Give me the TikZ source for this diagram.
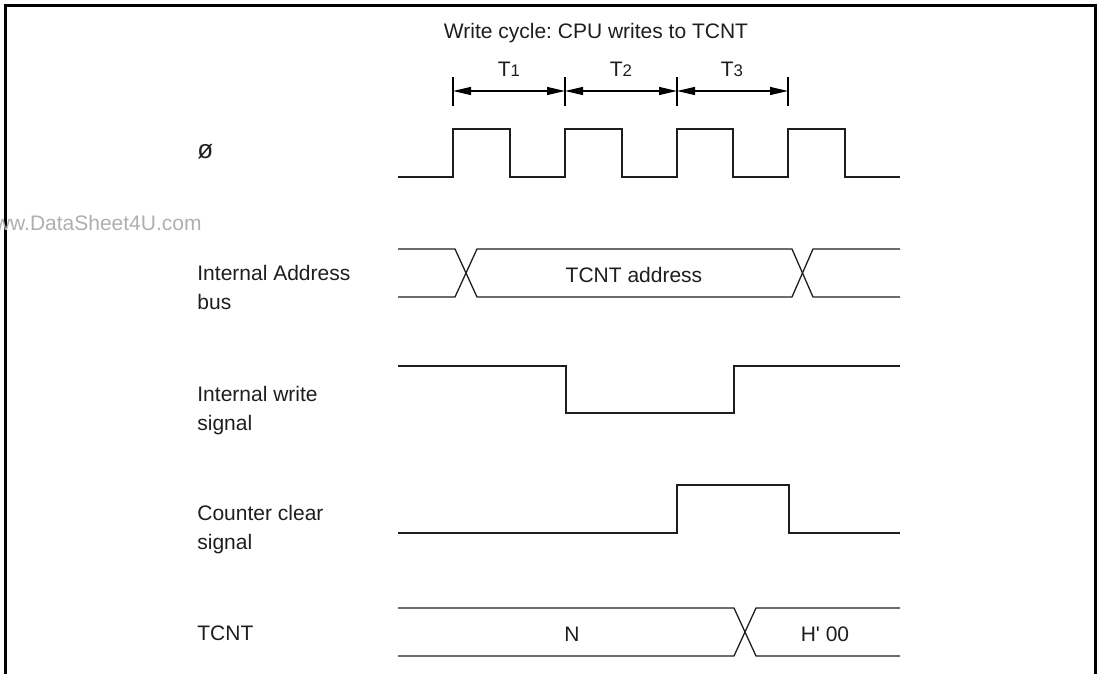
\documentclass[tikz,border=0pt]{standalone}
\usepackage{fontspec}
\setmainfont{Liberation Sans}[Ligatures=TeXOff]
\usetikzlibrary{arrows.meta}
\definecolor{ink}{RGB}{30,30,30}
\definecolor{wm}{RGB}{175,175,175}
\frenchspacing
\begin{document}
\begin{tikzpicture}[x=0.5pt,y=-0.5pt,line join=miter,
  sig/.style={draw=ink,line width=0.65pt},
  tickline/.style={draw=black,line width=0.6pt},
  dimarrow/.style={draw=black,line width=0.6pt,{Triangle[length=9pt,width=4pt]}-{Triangle[length=9pt,width=4pt]}},
  lbl/.style={anchor=base west,inner sep=0pt,text=ink,font=\fontsize{10.5pt}{12pt}\selectfont},
  ctr/.style={anchor=base,inner sep=0pt,text=ink,font=\fontsize{10.5pt}{12pt}\selectfont}]
\useasboundingbox (0,0) rectangle (1100,674);
% frame
\draw[line width=1.5pt] (5.5,674) -- (5.5,5.5) -- (1095.5,5.5) -- (1095.5,674);
% watermark
\node[anchor=base east,inner sep=0pt,text=wm,font=\fontsize{10.5pt}{12pt}\selectfont] (wmark) at (202,231) {www.DataSheet4U.com};
% title
\node[ctr] (title) at (596,39) {Write cycle: CPU writes to TCNT};
% ticks
\foreach \n/\x in {0/453,1/565,2/677,3/788}{
  \coordinate (ta\n) at (\x,77);
  \coordinate (tb\n) at (\x,106);
  \coordinate (tm\n) at (\x,91);
  \draw[tickline] (ta\n) -- (tb\n);
}
\draw[dimarrow] (tm0) -- (tm1);
\draw[dimarrow] (tm1) -- (tm2);
\draw[dimarrow] (tm2) -- (tm3);
\node[ctr] (T1) at (509,77) {T{\fontsize{8.4pt}{10pt}\selectfont 1}};
\node[ctr] (T2) at (621,77) {T{\fontsize{8.4pt}{10pt}\selectfont 2}};
\node[ctr] (T3) at (732,77) {T{\fontsize{8.4pt}{10pt}\selectfont 3}};
% labels
\node[lbl,font=\fontsize{13pt}{14pt}\selectfont] (lphi) at (197,159) {ø};
\node[lbl] (laddr1) at (197,281) {Internal Address};
\node[lbl] (laddr2) at (197,310) {bus};
\node[lbl] (lwr1) at (197,401) {Internal write};
\node[lbl] (lwr2) at (197,430) {signal};
\node[lbl] (lcc1) at (197,520) {Counter clear};
\node[lbl] (lcc2) at (197,549) {signal};
\node[lbl] (ltcnt) at (197,640) {TCNT};
% clock
\draw[sig] (398,177) -- (453,177) -- (453,129) -- (510,129) -- (510,177) -- (565,177) -- (565,129) -- (622,129) -- (622,177) -- (677,177) -- (677,129) -- (733,129) -- (733,177) -- (788,177) -- (788,129) -- (845,129) -- (845,177) -- (900,177);
% address bus
\draw[sig] (398,249) -- (455,249) -- (477,297) -- (792,297) -- (813,249) -- (900,249);
\draw[sig] (398,297) -- (455,297) -- (477,249) -- (792,249) -- (813,297) -- (900,297);
\node[ctr] (addr) at (634,283) {TCNT address};
% write signal
\draw[sig] (398,366) -- (566,366) -- (566,413) -- (734,413) -- (734,366) -- (900,366);
% counter clear
\draw[sig] (398,533) -- (677,533) -- (677,485) -- (789,485) -- (789,533) -- (900,533);
% TCNT
\draw[sig] (398,608) -- (734,608) -- (756,656) -- (900,656);
\draw[sig] (398,656) -- (734,656) -- (756,608) -- (900,608);
\node[ctr] (nval) at (572,641) {N};
\node[ctr] (hval) at (825,641) {H' 00};
\end{tikzpicture}
\end{document}
